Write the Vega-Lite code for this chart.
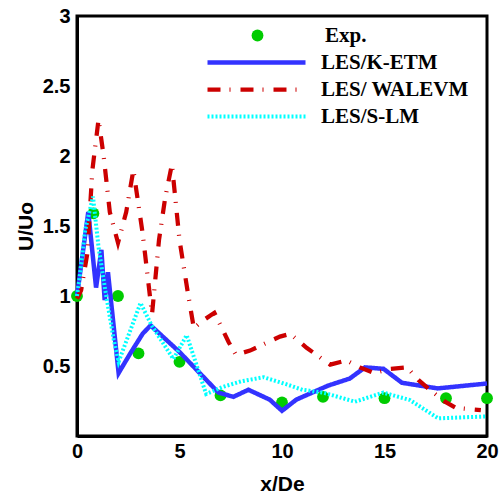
{
  "$schema": "https://vega.github.io/schema/vega-lite/v6.json",
  "width": 410,
  "height": 420,
  "autosize": "none",
  "padding": {"left": 77, "top": 16, "right": 15, "bottom": 61},
  "background": "white",
  "config": {"view": {"stroke": "black", "strokeWidth": 3}},
  "data": {"values": [
    {"series": "Exp.", "x": 0, "y": 1.0},
    {"series": "Exp.", "x": 0.8, "y": 1.59},
    {"series": "Exp.", "x": 2, "y": 1.0},
    {"series": "Exp.", "x": 3, "y": 0.59},
    {"series": "Exp.", "x": 5, "y": 0.53},
    {"series": "Exp.", "x": 7, "y": 0.29},
    {"series": "Exp.", "x": 10, "y": 0.24},
    {"series": "Exp.", "x": 12, "y": 0.28},
    {"series": "Exp.", "x": 15, "y": 0.27},
    {"series": "Exp.", "x": 18, "y": 0.27},
    {"series": "Exp.", "x": 20, "y": 0.27},
    {"series": "LES/K-ETM", "x": 0, "y": 1.0},
    {"series": "LES/K-ETM", "x": 0.55, "y": 1.6},
    {"series": "LES/K-ETM", "x": 0.93, "y": 1.06},
    {"series": "LES/K-ETM", "x": 1.19, "y": 1.33},
    {"series": "LES/K-ETM", "x": 1.35, "y": 0.97},
    {"series": "LES/K-ETM", "x": 1.51, "y": 1.17},
    {"series": "LES/K-ETM", "x": 2.03, "y": 0.45},
    {"series": "LES/K-ETM", "x": 2.6, "y": 0.59},
    {"series": "LES/K-ETM", "x": 3.2, "y": 0.73},
    {"series": "LES/K-ETM", "x": 3.59, "y": 0.79},
    {"series": "LES/K-ETM", "x": 5.0, "y": 0.6},
    {"series": "LES/K-ETM", "x": 6.9, "y": 0.31},
    {"series": "LES/K-ETM", "x": 7.63, "y": 0.28},
    {"series": "LES/K-ETM", "x": 8.36, "y": 0.33},
    {"series": "LES/K-ETM", "x": 9.4, "y": 0.26},
    {"series": "LES/K-ETM", "x": 10, "y": 0.18},
    {"series": "LES/K-ETM", "x": 10.7, "y": 0.26},
    {"series": "LES/K-ETM", "x": 12.25, "y": 0.36},
    {"series": "LES/K-ETM", "x": 13.3, "y": 0.41},
    {"series": "LES/K-ETM", "x": 14.05, "y": 0.49},
    {"series": "LES/K-ETM", "x": 14.95, "y": 0.48},
    {"series": "LES/K-ETM", "x": 15.85, "y": 0.38},
    {"series": "LES/K-ETM", "x": 17.6, "y": 0.34},
    {"series": "LES/K-ETM", "x": 20, "y": 0.375},
    {"series": "LES/ WALEVM", "x": 0, "y": 0.98},
    {"series": "LES/ WALEVM", "x": 0.2, "y": 1.04},
    {"series": "LES/ WALEVM", "x": 0.5, "y": 1.3},
    {"series": "LES/ WALEVM", "x": 0.75, "y": 1.9},
    {"series": "LES/ WALEVM", "x": 1.05, "y": 2.26},
    {"series": "LES/ WALEVM", "x": 1.3, "y": 2.0},
    {"series": "LES/ WALEVM", "x": 1.6, "y": 1.6},
    {"series": "LES/ WALEVM", "x": 2.0, "y": 1.38},
    {"series": "LES/ WALEVM", "x": 2.4, "y": 1.6},
    {"series": "LES/ WALEVM", "x": 2.75, "y": 1.9},
    {"series": "LES/ WALEVM", "x": 3.2, "y": 1.45},
    {"series": "LES/ WALEVM", "x": 3.66, "y": 0.87},
    {"series": "LES/ WALEVM", "x": 4.0, "y": 1.4},
    {"series": "LES/ WALEVM", "x": 4.3, "y": 1.7},
    {"series": "LES/ WALEVM", "x": 4.63, "y": 1.94},
    {"series": "LES/ WALEVM", "x": 5.0, "y": 1.4},
    {"series": "LES/ WALEVM", "x": 5.4, "y": 1.03},
    {"series": "LES/ WALEVM", "x": 5.7, "y": 0.77},
    {"series": "LES/ WALEVM", "x": 6.1, "y": 0.82},
    {"series": "LES/ WALEVM", "x": 6.7, "y": 0.88},
    {"series": "LES/ WALEVM", "x": 7.4, "y": 0.67},
    {"series": "LES/ WALEVM", "x": 7.75, "y": 0.58},
    {"series": "LES/ WALEVM", "x": 8.44, "y": 0.61},
    {"series": "LES/ WALEVM", "x": 9.9, "y": 0.71},
    {"series": "LES/ WALEVM", "x": 10.4, "y": 0.73},
    {"series": "LES/ WALEVM", "x": 11.2, "y": 0.63},
    {"series": "LES/ WALEVM", "x": 12.35, "y": 0.51},
    {"series": "LES/ WALEVM", "x": 13.15, "y": 0.54},
    {"series": "LES/ WALEVM", "x": 13.8, "y": 0.49},
    {"series": "LES/ WALEVM", "x": 14.5, "y": 0.45},
    {"series": "LES/ WALEVM", "x": 15.3, "y": 0.48},
    {"series": "LES/ WALEVM", "x": 16.1, "y": 0.49},
    {"series": "LES/ WALEVM", "x": 16.65, "y": 0.4},
    {"series": "LES/ WALEVM", "x": 17.3, "y": 0.32},
    {"series": "LES/ WALEVM", "x": 17.95, "y": 0.245},
    {"series": "LES/ WALEVM", "x": 18.5, "y": 0.2},
    {"series": "LES/ WALEVM", "x": 19.7, "y": 0.185},
    {"series": "LES/S-LM", "x": 0, "y": 1.0},
    {"series": "LES/S-LM", "x": 0.11, "y": 1.11},
    {"series": "LES/S-LM", "x": 0.4, "y": 1.47},
    {"series": "LES/S-LM", "x": 0.78, "y": 1.71},
    {"series": "LES/S-LM", "x": 1.05, "y": 1.35},
    {"series": "LES/S-LM", "x": 1.38, "y": 1.04},
    {"series": "LES/S-LM", "x": 1.79, "y": 0.69},
    {"series": "LES/S-LM", "x": 2.03, "y": 0.53},
    {"series": "LES/S-LM", "x": 3.1, "y": 0.95},
    {"series": "LES/S-LM", "x": 3.64, "y": 0.79},
    {"series": "LES/S-LM", "x": 4.7, "y": 0.55},
    {"series": "LES/S-LM", "x": 5.35, "y": 0.72},
    {"series": "LES/S-LM", "x": 6.3, "y": 0.3},
    {"series": "LES/S-LM", "x": 7.1, "y": 0.35},
    {"series": "LES/S-LM", "x": 8.0, "y": 0.39},
    {"series": "LES/S-LM", "x": 9.1, "y": 0.42},
    {"series": "LES/S-LM", "x": 10.2, "y": 0.37},
    {"series": "LES/S-LM", "x": 11.0, "y": 0.33},
    {"series": "LES/S-LM", "x": 12.0, "y": 0.31},
    {"series": "LES/S-LM", "x": 13.56, "y": 0.245},
    {"series": "LES/S-LM", "x": 14.94, "y": 0.31},
    {"series": "LES/S-LM", "x": 16.24, "y": 0.257},
    {"series": "LES/S-LM", "x": 17.62, "y": 0.126},
    {"series": "LES/S-LM", "x": 20, "y": 0.14}
  ]},
  "encoding": {
    "x": {
      "field": "x", "type": "quantitative",
      "scale": {"domain": [0, 20], "nice": false, "zero": false},
      "axis": {
        "title": "x/De",
        "values": [0,1,2,3,4,5,6,7,8,9,10,11,12,13,14,15,16,17,18,19,20],
        "labelExpr": "datum.value % 5 === 0 ? '' + datum.value : ''",
        "labelOverlap": false,
        "labelFlush": false,
        "labelBound": false,
        "grid": false,
        "tickSize": 0,
        "tickColor": "black",
        "tickWidth": 2,
        "domainColor": "black",
        "domainWidth": 3,
        "labelPadding": 5,
        "labelFont": "Liberation Sans",
        "labelFontWeight": "bold",
        "labelFontSize": 20,
        "labelColor": "black",
        "titleFont": "Liberation Sans",
        "titleFontWeight": "bold",
        "titleFontSize": 21,
        "titleColor": "black",
        "titleBaseline": "alphabetic",
        "titleY": 54,
        "encode": {"ticks": {"update": {"y2": {"signal": "datum.value % 5 === 0 ? -10 : -5"}}}}
      }
    },
    "y": {
      "field": "y", "type": "quantitative",
      "scale": {"domain": [0, 3], "nice": false, "zero": false},
      "axis": {
        "title": "U/Uo",
        "values": [0,0.1,0.2,0.3,0.4,0.5,0.6,0.7,0.8,0.9,1,1.1,1.2,1.3,1.4,1.5,1.6,1.7,1.8,1.9,2,2.1,2.2,2.3,2.4,2.5,2.6,2.7,2.8,2.9,3],
        "labelExpr": "datum.value > 0 && abs(datum.value*2 - round(datum.value*2)) < 0.000001 ? '' + datum.value : ''",
        "labelOverlap": false,
        "labelFlush": false,
        "labelBound": false,
        "grid": false,
        "tickSize": 0,
        "tickColor": "black",
        "tickWidth": 2,
        "domainColor": "black",
        "domainWidth": 3,
        "labelPadding": 7,
        "labelFont": "Liberation Sans",
        "labelFontWeight": "bold",
        "labelFontSize": 20,
        "labelColor": "black",
        "titleFont": "Liberation Sans",
        "titleFontWeight": "bold",
        "titleFontSize": 21,
        "titleColor": "black",
        "titleBaseline": "alphabetic",
        "titleX": -45,
        "titleY": 210,
        "encode": {"ticks": {"update": {"x2": {"signal": "abs(datum.value*2 - round(datum.value*2)) < 0.000001 ? 10 : 5"}}}}
      }
    }
  },
  "layer": [
    {
      "transform": [{"filter": "datum.series === 'Exp.'"}],
      "mark": {"type": "point", "filled": true, "size": 140, "opacity": 1, "color": "#00cc00"},
      "encoding": {
        "shape": {
          "field": "series", "type": "nominal",
          "scale": {"domain": ["Exp."], "range": ["circle"]},
          "legend": {
            "title": null,
            "orient": "none",
            "legendX": 170,
            "legendY": 6,
            "padding": 0,
            "symbolSize": 140,
            "symbolFillColor": "#00cc00",
            "symbolStrokeWidth": 0,
            "symbolOpacity": 1,
            "clipHeight": 27,
            "labelOffset": 57,
            "labelLimit": 300,
            "labelFont": "Liberation Serif",
            "labelFontWeight": "bold",
            "labelFontSize": 21,
            "labelColor": "black"
          }
        }
      }
    },
    {
      "transform": [{"filter": "datum.series !== 'Exp.'"}],
      "mark": {"type": "line", "strokeJoin": "miter"},
      "encoding": {
        "color": {
          "field": "series", "type": "nominal",
          "scale": {"domain": ["LES/K-ETM", "LES/ WALEVM", "LES/S-LM"], "range": ["#3333ff", "#cc0000", "#00ffff"]},
          "legend": {
            "title": null,
            "orient": "none",
            "legendX": 128,
            "legendY": 33,
            "padding": 0,
            "symbolType": "stroke",
            "symbolSize": 9604,
            "symbolOpacity": 1,
            "clipHeight": 27,
            "rowPadding": 0,
            "labelOffset": 13,
            "labelLimit": 300,
            "labelFont": "Liberation Serif",
            "labelFontWeight": "bold",
            "labelFontSize": 21,
            "labelColor": "black"
          }
        },
        "strokeDash": {
          "field": "series", "type": "nominal",
          "scale": {"domain": ["LES/K-ETM", "LES/ WALEVM", "LES/S-LM"], "range": [[1, 0], [13, 9, 1, 10], [2, 2]]},
          "legend": {
            "title": null,
            "orient": "none",
            "legendX": 128,
            "legendY": 33,
            "padding": 0,
            "symbolType": "stroke",
            "symbolSize": 9604,
            "symbolOpacity": 1,
            "clipHeight": 27,
            "rowPadding": 0,
            "labelOffset": 13,
            "labelLimit": 300,
            "labelFont": "Liberation Serif",
            "labelFontWeight": "bold",
            "labelFontSize": 21,
            "labelColor": "black"
          }
        },
        "strokeWidth": {
          "field": "series", "type": "nominal",
          "scale": {"domain": ["LES/K-ETM", "LES/ WALEVM", "LES/S-LM"], "range": [4.5, 4, 3]},
          "legend": {
            "title": null,
            "orient": "none",
            "legendX": 128,
            "legendY": 33,
            "padding": 0,
            "symbolType": "stroke",
            "symbolSize": 9604,
            "symbolOpacity": 1,
            "clipHeight": 27,
            "rowPadding": 0,
            "labelOffset": 13,
            "labelLimit": 300,
            "labelFont": "Liberation Serif",
            "labelFontWeight": "bold",
            "labelFontSize": 21,
            "labelColor": "black"
          }
        }
      }
    }
  ]
}
